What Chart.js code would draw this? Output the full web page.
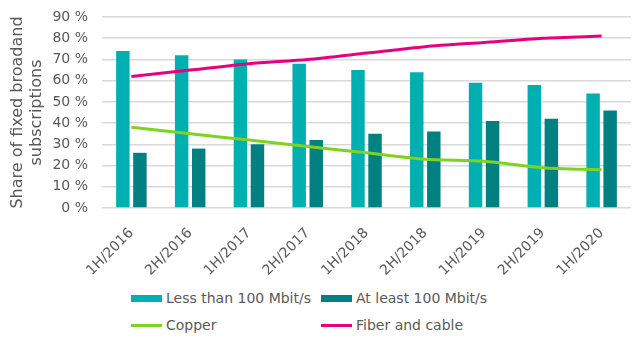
<!DOCTYPE html>
<html>
<head>
<meta charset="utf-8">
<script src="https://cdn.jsdelivr.net/npm/chart.js@4"></script>
<style>
  html, body { margin: 0; padding: 0; background: #fff; }
  #wrap { position: relative; width: 638px; height: 347px; }
  #box { position: absolute; left: 0; top: 0; width: 638px; height: 290px; }
  .lg { position: absolute; font-family: "DejaVu Sans", Verdana, sans-serif; font-size: 14px; color: #595959; white-space: nowrap; line-height: 16px; }
  .sw { position: absolute; }
</style>
</head>
<body>
<div id="wrap">
  <div id="box"><canvas id="c"></canvas></div>
  <div id="legend"></div>
</div>
<script>
const categories = ["1H/2016","2H/2016","1H/2017","2H/2017","1H/2018","2H/2018","1H/2019","2H/2019","1H/2020"];
const lessThan100 = [74, 72, 70, 68, 65, 64, 59, 58, 54];
const atLeast100  = [26, 28, 30, 32, 35, 36, 41, 42, 46];
const copper      = [38, 35, 32, 29, 26, 23, 22, 19, 18];
const fiberCable  = [62, 65, 68, 70, 73, 76, 78, 80, 81];
const yTicks = [0, 10, 20, 30, 40, 50, 60, 70, 80, 90];
const seriesNames = ["Less than 100 Mbit/s", "At least 100 Mbit/s", "Copper", "Fiber and cable"];
const colors = ["#00AFB0", "#008081", "#7ED321", "#E6007E"];

const font = { family: "'DejaVu Sans', Verdana, sans-serif", size: 14 };
const textColor = "#595959";

new Chart(document.getElementById("c"), {
  data: {
    labels: categories,
    datasets: [
      { type: "bar", label: seriesNames[0], data: lessThan100, backgroundColor: colors[0], order: 2,
        categoryPercentage: 0.58, barPercentage: 0.79 },
      { type: "bar", label: seriesNames[1], data: atLeast100, backgroundColor: colors[1], order: 2,
        categoryPercentage: 0.58, barPercentage: 0.79 },
      { type: "line", label: seriesNames[2], data: copper, borderColor: colors[2], backgroundColor: colors[2],
        borderWidth: 3, pointRadius: 0, tension: 0.25, order: 0 },
      { type: "line", label: seriesNames[3], data: fiberCable, borderColor: colors[3], backgroundColor: colors[3],
        borderWidth: 3, pointRadius: 0, tension: 0.25, order: 0 }
    ]
  },
  options: {
    responsive: true,
    maintainAspectRatio: false,
    animation: false,
    layout: { padding: { top: 17, right: 7, left: 0, bottom: 0 } },
    plugins: { legend: { display: false }, tooltip: { enabled: false } },
    scales: {
      x: {
        offset: true,
        grid: { display: false, drawTicks: false },
        border: { display: false },
        ticks: { color: textColor, font: font, minRotation: 45, maxRotation: 45, padding: 17, autoSkip: false },
        afterFit: s => { s.height = 82; s.paddingLeft = 0; s.paddingRight = 0; }
      },
      y: {
        min: 0, max: 90,
        afterBuildTicks: s => { s.ticks = yTicks.map(v => ({ value: v })); },
        grid: { color: "#D9D9D9", lineWidth: 1.5, drawTicks: false },
        border: { display: false },
        ticks: { color: textColor, font: font, padding: 14, callback: v => v + " %" },
        title: { display: true, text: ["Share of fixed broadand", "subscriptions"], color: textColor,
                 font: { family: font.family, size: 16 }, padding: { top: 8, bottom: 0 } },
        afterFit: s => { s.width = 102; s.paddingTop = 0; s.paddingBottom = 0; }
      }
    }
  }
});

// HTML legend (2 x 2 grid)
const lg = document.getElementById("legend");
const cols = [131, 321];
const rows = [298, 325];
seriesNames.forEach((name, i) => {
  const x = cols[i % 2], y = rows[Math.floor(i / 2)];
  const sw = document.createElement("div");
  sw.className = "sw";
  sw.style.left = x + "px";
  sw.style.width = "31px";
  sw.style.background = colors[i];
  if (i < 2) { sw.style.top = (y - 3.5) + "px"; sw.style.height = "7px"; }
  else { sw.style.top = (y - 1.5) + "px"; sw.style.height = "3px"; }
  lg.appendChild(sw);
  const t = document.createElement("div");
  t.className = "lg";
  t.style.left = (x + 35) + "px";
  t.style.top = (y - 8) + "px";
  t.textContent = name;
  lg.appendChild(t);
});
</script>
</body>
</html>
